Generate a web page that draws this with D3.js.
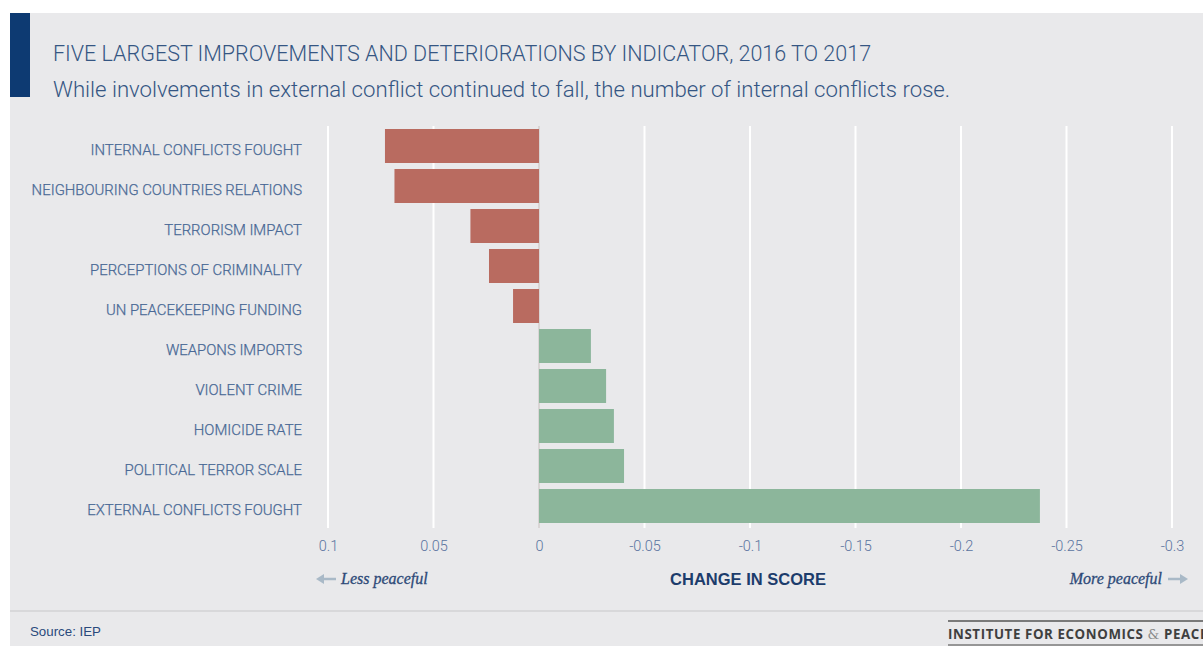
<!DOCTYPE html>
<html>
<head>
<meta charset="utf-8">
<script src="https://cdn.jsdelivr.net/npm/d3@7"></script>
<style>
  html, body { margin: 0; padding: 0; background: #fff; }
  svg { display: block; }
</style>
</head>
<body>
<div id="chart"></div>
<script>
// indicators, top to bottom
const indicators = [
  "INTERNAL CONFLICTS FOUGHT",
  "NEIGHBOURING COUNTRIES RELATIONS",
  "TERRORISM IMPACT",
  "PERCEPTIONS OF CRIMINALITY",
  "UN PEACEKEEPING FUNDING",
  "WEAPONS IMPORTS",
  "VIOLENT CRIME",
  "HOMICIDE RATE",
  "POLITICAL TERROR SCALE",
  "EXTERNAL CONFLICTS FOUGHT",
];
// change in score 2016 -> 2017 (positive = less peaceful)
const changes = [0.073, 0.0685, 0.0325, 0.0237, 0.0123, -0.0246, -0.0318, -0.0355, -0.0403, -0.2374];
const tickValues = [0.1, 0.05, 0, -0.05, -0.1, -0.15, -0.2, -0.25, -0.3];
const tickLabels = ["0.1", "0.05", "0", "-0.05", "-0.1", "-0.15", "-0.2", "-0.25", "-0.3"];

const width = 1203;
const height = 646;

const bg = "#e9e9eb";
const red = "#b96b60";
const green = "#8cb69b";
const labelColor = "#4a6996";
const navy = "#1c3c6c";

const svg = d3.select("#chart").append("svg")
  .attr("width", width)
  .attr("height", height)
  .attr("viewBox", [0, 0, width, height]);

// panel
svg.append("rect").attr("x", 10).attr("y", 13).attr("width", width - 10).attr("height", height - 13).attr("fill", bg);
svg.append("rect").attr("x", 10).attr("y", 13).attr("width", 20).attr("height", 84).attr("fill", "#0d3a72");

svg.append("text")
  .attr("x", 53).attr("y", 61)
  .attr("font-family", "Roboto, sans-serif").attr("font-weight", 300)
  .attr("font-size", 21.5).attr("fill", "#355683")
  .text("FIVE LARGEST IMPROVEMENTS AND DETERIORATIONS BY INDICATOR, 2016 TO 2017");

svg.append("text")
  .attr("x", 53).attr("y", 97)
  .attr("font-family", "Roboto, sans-serif").attr("font-weight", 300)
  .attr("font-size", 22.2).attr("fill", "#355683")
  .text("While involvements in external conflict continued to fall, the number of internal conflicts rose.");

const x = d3.scaleLinear().domain([0.1, -0.3]).range([328, 1172]);
const y = d3.scaleBand().domain(indicators).range([126, 526]).paddingInner(0.15).paddingOuter(0.075);

// gridlines
svg.append("g")
  .selectAll("line")
  .data(tickValues)
  .join("line")
  .attr("x1", d => x(d)).attr("x2", d => x(d))
  .attr("y1", 126).attr("y2", 528)
  .attr("stroke", d => d === 0 ? "#d9d5d5" : "#fff")
  .attr("stroke-width", 2);

// bars
svg.append("g")
  .selectAll("rect")
  .data(indicators)
  .join("rect")
  .attr("x", (d, i) => Math.min(x(changes[i]), x(0)))
  .attr("width", (d, i) => Math.abs(x(changes[i]) - x(0)))
  .attr("y", d => y(d))
  .attr("height", y.bandwidth())
  .attr("fill", (d, i) => changes[i] > 0 ? red : green);

// category labels
svg.append("g")
  .selectAll("text")
  .data(indicators)
  .join("text")
  .attr("x", 302)
  .attr("y", d => y(d) + y.bandwidth() / 2 + 4)
  .attr("dy", "0.35em")
  .attr("text-anchor", "end")
  .attr("font-family", "Roboto, sans-serif").attr("font-weight", 300)
  .attr("font-size", 14.9).attr("fill", labelColor)
  .attr("stroke", labelColor).attr("stroke-width", 0.25)
  .text(d => d);

// x axis labels
const xAxis = d3.axisBottom(x)
  .tickValues(tickValues)
  .tickFormat((d, i) => tickLabels[i])
  .tickSize(0)
  .tickPadding(0);

svg.append("g")
  .attr("transform", "translate(0,541)")
  .call(xAxis)
  .call(g => g.select(".domain").remove())
  .call(g => g.selectAll("text")
    .attr("font-family", "Roboto, sans-serif").attr("font-weight", 300)
    .attr("font-size", 14.5).attr("fill", "#5a74a0"));

// direction notes
function arrow(x0, x1, yy) {
  const dir = Math.sign(x1 - x0);
  svg.append("path")
    .attr("d", `M${x0},${yy}H${x1 - dir * 6}`)
    .attr("stroke", "#a9b9c7").attr("stroke-width", 2.5).attr("fill", "none");
  svg.append("path")
    .attr("d", `M${x1},${yy}L${x1 - dir * 8},${yy - 5}L${x1 - dir * 8},${yy + 5}Z`)
    .attr("fill", "#a9b9c7");
}
arrow(336, 316, 579);
arrow(1168, 1188, 579);

svg.append("text").attr("x", 341).attr("y", 584)
  .attr("font-family", "'Liberation Serif', serif").attr("font-style", "italic")
  .attr("font-size", 16).attr("fill", "#2e4a78")
  .attr("stroke", "#2e4a78").attr("stroke-width", 0.3)
  .text("Less peaceful");
svg.append("text").attr("x", 1162).attr("y", 584).attr("text-anchor", "end")
  .attr("font-family", "'Liberation Serif', serif").attr("font-style", "italic")
  .attr("font-size", 16).attr("fill", "#2e4a78")
  .attr("stroke", "#2e4a78").attr("stroke-width", 0.3)
  .text("More peaceful");

svg.append("text").attr("x", 748).attr("y", 585).attr("text-anchor", "middle")
  .attr("font-family", "'Liberation Sans', Arial, sans-serif").attr("font-weight", 700)
  .attr("font-size", 16.5).attr("fill", navy)
  .text("CHANGE IN SCORE");

// footer
svg.append("line").attr("x1", 10).attr("x2", width).attr("y1", 611).attr("y2", 611)
  .attr("stroke", "#d2d2d4").attr("stroke-width", 1.5);
svg.append("text").attr("x", 30).attr("y", 636)
  .attr("font-family", "'Liberation Sans', Arial, sans-serif")
  .attr("font-size", 13.3).attr("fill", "#2a4a7c")
  .text("Source: IEP");

svg.append("line").attr("x1", 948).attr("x2", width).attr("y1", 621).attr("y2", 621)
  .attr("stroke", "#7a7a7a").attr("stroke-width", 2);
svg.append("line").attr("x1", 948).attr("x2", width).attr("y1", 645).attr("y2", 645)
  .attr("stroke", "#7a7a7a").attr("stroke-width", 1.5);
const logo = svg.append("text").attr("x", 948).attr("y", 639)
  .attr("font-family", "'Open Sans', 'DejaVu Sans', sans-serif").attr("font-weight", 700)
  .attr("font-size", 13.3).attr("fill", "#3f3f3f").attr("letter-spacing", 0.6);
logo.append("tspan").text("INSTITUTE FOR ECONOMICS ");
logo.append("tspan").attr("font-family", "'DejaVu Serif', serif").attr("font-weight", 400).attr("fill", "#888").text("&");
logo.append("tspan").text(" PEACE");
</script>
</body>
</html>
